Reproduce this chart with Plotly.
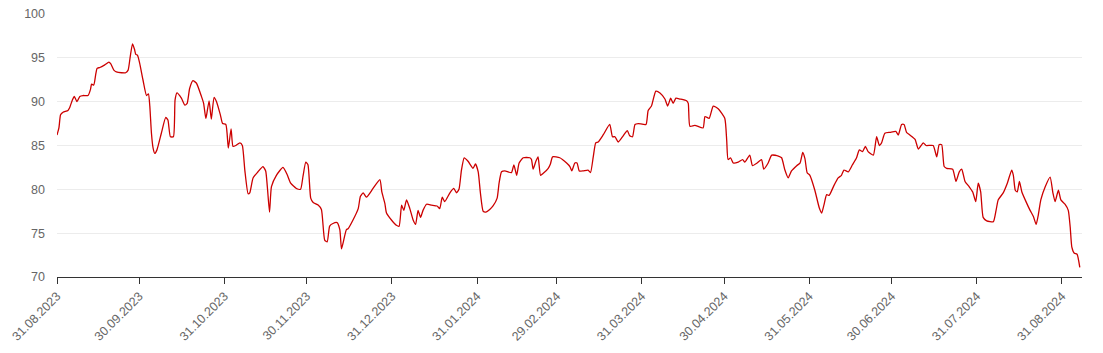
import pandas as pd
import plotly.graph_objects as go

start_date = "2023-08-31"

# days since 31.08.2023
day_offsets = [
    0.0, 0.7, 1.3, 2.2, 4.0, 4.6, 5.6, 6.3, 7.3, 8.3, 9.5, 11.3, 12.2, 12.6, 13.4, 14.1, 14.6, 15.6,
    17.4, 18.9, 19.6, 20.7, 21.6, 23.5, 25.0, 25.9, 26.7, 27.5, 28.2, 28.7, 29.3, 30.1, 31.3, 32.6,
    33.3, 33.8, 34.4, 35.0, 35.6, 36.4, 38.0, 39.6, 40.4, 41.3, 42.4, 43.0, 43.7, 45.3, 46.6, 47.4,
    48.3, 49.5, 50.8, 52.6, 53.4, 54.2, 54.6, 55.4, 56.2, 57.2, 58.1, 59.5, 60.3, 61.5, 62.4, 63.4,
    64.1, 65.1, 66.6, 67.5, 68.4, 69.6, 70.2, 71.4, 73.2, 75.0, 76.0, 76.6, 77.4, 78.1, 79.9, 82.3,
    83.8, 85.1, 87.2, 88.7, 89.6, 90.6, 91.4, 92.4, 93.3, 95.1, 96.3, 97.5, 98.4, 99.3, 100.5, 102.0,
    103.0, 103.6, 104.2, 105.4, 106.0, 107.8, 109.7, 110.5, 111.5, 112.7,
    115.1, 117.6, 118.3, 119.4, 120.0, 121.8, 123.6, 124.6, 125.5, 126.3, 127.3, 128.5, 129.7, 130.6,
    131.5, 132.4, 133.3, 134.6, 136.4, 138.4, 139.4, 140.3, 141.2, 143.1, 144.5, 145.5, 146.4, 147.3,
    148.3, 149.7, 151.5, 152.4, 153.4, 154.2, 155.2, 156.2, 157.6, 158.8, 160.3, 161.0, 161.9, 163.1,
    165.5, 166.4, 167.4, 168.3, 169.8, 172.2, 172.8, 173.4, 174.4, 175.2, 176.1, 177.0, 178.9, 179.7,
    180.5, 183.1, 185.6, 186.8, 187.5, 188.6, 189.4, 190.2, 191.6, 193.4, 194.3, 195.3, 196.2, 197.1,
    198.9, 201.3, 202.3, 203.2, 204.4, 206.2, 207.7, 208.6, 209.6, 210.5, 211.7, 214.5, 215.3, 216.5,
    218.1, 219.6, 221.4, 222.4, 223.5, 224.4, 225.4, 226.9, 229.3, 229.9, 230.5, 232.3, 235.3, 236.0,
    237.5, 239.0, 240.8, 243.2, 243.9, 244.4,
    245.3, 246.3, 248.1, 249.7, 250.5, 252.3, 253.3, 255.0, 256.6, 257.4, 259.0, 260.3, 262.7, 263.9,
    265.1, 266.3, 267.5, 269.4, 270.6, 271.6, 272.4, 273.2, 274.2, 276.0, 277.6, 278.5, 279.3, 280.3,
    281.2, 282.9, 284.5, 285.7, 286.6, 288.2, 289.7, 291.2, 292.2, 293.4, 294.4, 295.4, 297.3, 298.5,
    299.5, 300.3, 301.5, 303.4, 305.5, 306.4, 307.6, 308.5, 309.4, 310.6, 312.5, 313.7, 315.5, 316.5,
    319.1, 320.4, 321.3, 322.2, 323.1, 324.0, 326.2, 327.4, 328.6, 329.5, 330.7, 332.2, 333.5, 334.6,
    335.5, 336.4, 337.3, 338.6, 341.0, 342.0, 342.8, 344.6, 346.1, 347.7, 348.3, 349.0, 349.7, 350.5,
    351.4, 352.9, 354.4, 355.6, 356.6, 357.4, 358.3, 359.9, 361.7, 362.7, 363.5, 364.7, 365.6, 367.1,
    368.3, 369.0, 369.6, 370.5, 371.5, 372.5,
]

values = [
    86.2, 87.0, 88.5, 88.8, 89.0, 89.3, 90.2, 90.6, 90.0, 90.6, 90.7, 90.7, 91.4, 92.0, 91.9, 93.1, 93.8, 93.9,
    94.2, 94.5, 94.3, 93.6, 93.4, 93.3, 93.3, 93.6, 95.2, 96.6, 96.0, 95.4, 95.3, 94.4, 92.5, 90.7,
    90.9, 89.5, 86.4, 84.7, 84.1, 84.5, 86.4, 88.2, 87.9, 86.0, 86.0, 90.2, 91.0, 90.4, 89.6, 89.8,
    91.5, 92.4, 92.1, 90.6, 89.8, 88.1, 88.7, 90.1, 88.0, 90.5, 90.0, 88.5, 87.5, 87.4, 84.7, 86.9,
    84.9, 85.0, 85.3, 85.0, 82.2, 79.5, 79.6, 81.3, 82.0, 82.6, 82.1, 80.3, 77.4, 80.3, 81.6, 82.5,
    81.7, 80.7, 80.1, 80.0, 81.5, 83.1, 82.8, 79.0, 78.5, 78.2, 77.7, 74.2, 74.0, 75.8, 76.1, 76.2,
    75.4, 73.2, 73.9, 75.4, 75.5, 76.5, 77.8, 79.2, 79.6, 79.1,
    80.1, 81.1, 79.7, 78.4, 77.3, 76.5, 75.9, 75.8, 78.2, 77.6, 78.8, 77.8, 76.5, 76.0,
    77.6, 76.8, 77.6, 78.3, 78.2, 78.1, 77.8, 79.1, 78.6, 79.6, 80.1, 79.6, 80.0, 82.2,
    83.6, 83.2, 82.4, 82.9, 82.0, 79.6, 77.5, 77.4, 77.7, 78.1, 79.0, 80.7, 82.0, 82.1,
    81.9, 82.8, 81.6, 83.0, 83.6, 83.6, 83.4, 82.3, 83.2, 83.7, 81.6, 81.8, 82.4, 82.9,
    83.7, 83.6, 83.0, 82.6, 82.1, 83.0, 83.0, 82.1, 82.1, 82.2, 81.9, 83.7, 85.3, 85.4,
    86.2, 87.4, 86.0, 86.0, 85.4, 86.1, 86.7, 86.1, 86.0, 87.4, 87.5, 87.4, 89.0, 89.5,
    91.2, 91.0, 90.3, 89.5, 90.4, 89.8, 90.4, 90.3, 90.1, 89.8, 87.2, 87.3, 87.0, 88.3,
    88.1, 89.5, 89.2, 88.1, 85.6, 83.4,
    83.6, 83.0, 83.1, 83.4, 83.1, 83.9, 82.7, 83.0, 83.4, 82.3, 83.0, 83.9, 83.8, 83.6,
    82.2, 81.3, 82.1, 82.7, 83.0, 84.2, 83.5, 81.9, 81.6, 79.9, 77.9, 77.3, 78.2, 79.4,
    79.3, 80.4, 81.3, 81.6, 82.2, 82.0, 82.8, 83.6, 84.5, 84.3, 84.9, 84.3, 83.9, 86.0,
    85.0, 85.3, 86.4, 86.5, 86.6, 86.2, 87.4, 87.4, 86.5, 86.2, 85.7, 84.6, 85.3, 85.0,
    85.0, 83.7, 85.1, 85.1, 82.6, 82.4, 82.3, 80.9, 82.0, 82.3, 80.9, 80.3, 79.7, 78.6,
    80.7, 79.7, 76.8, 76.4, 76.3, 77.6, 78.8, 79.6, 80.7, 82.2, 81.6, 79.9, 79.7, 80.9,
    79.7, 78.6, 77.6, 76.9, 76.0, 77.1, 78.8, 80.3, 81.4, 79.6, 78.6, 79.9, 78.8, 78.3,
    77.6, 75.7, 73.4, 72.7, 72.6, 71.1,
]

tick_dates = [
    "2023-08-31", "2023-09-30", "2023-10-31", "2023-11-30", "2023-12-31", "2024-01-31",
    "2024-02-29", "2024-03-31", "2024-04-30", "2024-05-31", "2024-06-30", "2024-07-31", "2024-08-31",
]
tick_labels = [pd.Timestamp(d).strftime("%d.%m.%Y") for d in tick_dates]

x = pd.Timestamp(start_date) + pd.to_timedelta(day_offsets, unit="D")

fig = go.Figure()
fig.add_trace(go.Scatter(
    x=x, y=values, mode="lines",
    line=dict(color="#cc0000", width=1.3, shape="spline", smoothing=0.5),
    hoverinfo="x+y", showlegend=False,
))

x_end = pd.Timestamp(start_date) + pd.Timedelta(days=373.3)

fig.update_layout(
    width=1103, height=353,
    margin=dict(l=57, r=21, t=14, b=76, pad=0),
    paper_bgcolor="white", plot_bgcolor="white",
    font=dict(family="Liberation Sans, Arial, sans-serif", color="#666666"),
    xaxis=dict(
        range=[pd.Timestamp(start_date), x_end],
        tickmode="array", tickvals=tick_dates, ticktext=tick_labels,
        tickangle=-45, tickfont=dict(size=12.5, color="#666666"),
        showgrid=False, showline=True, linecolor="#333333", linewidth=1,
        ticks="outside", ticklen=6, tickcolor="#333333", zeroline=False,
        automargin=False,
    ),
    yaxis=dict(
        range=[70, 100], dtick=5, tick0=70,
        tickfont=dict(size=12.5, color="#666666"),
        showgrid=True, gridcolor="#ececec", gridwidth=1,
        showline=False, zeroline=False, ticks="", ticklabelstandoff=11,
        automargin=False,
    ),
)

fig.write_html("out.html")
